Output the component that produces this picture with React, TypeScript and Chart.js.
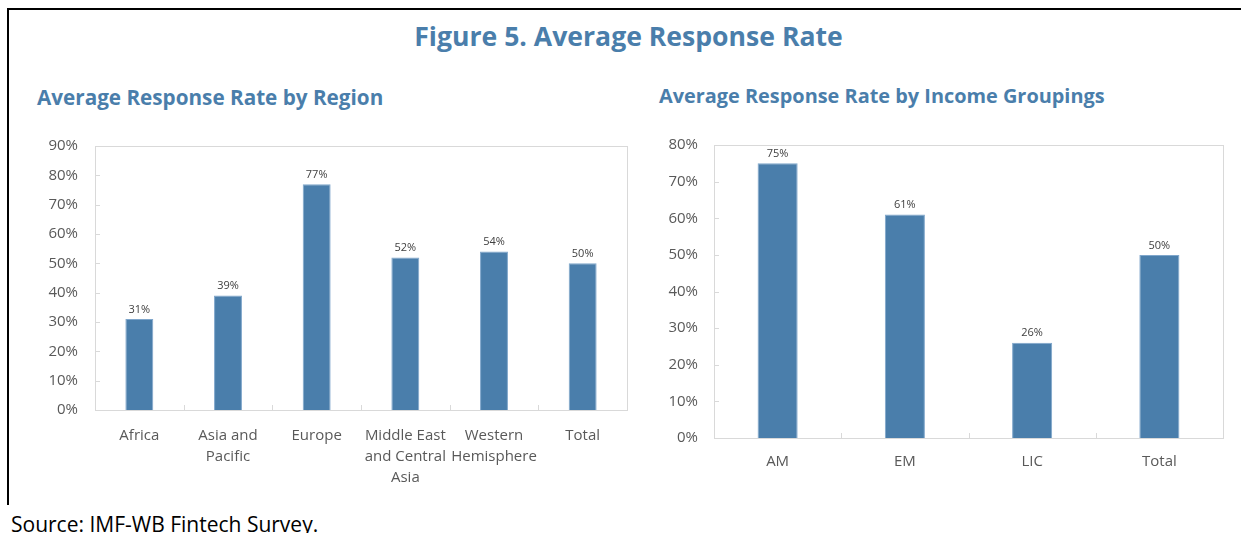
import React, { useEffect, useRef } from "react";
import { Chart, registerables } from "chart.js";

Chart.register(...registerables);

// ---- data ----
const regionCategories: (string | string[])[] = [
  "Africa",
  ["Asia and", "Pacific"],
  "Europe",
  ["Middle East", "and Central", "Asia"],
  ["Western", "Hemisphere"],
  "Total",
];
const regionValues = [31, 39, 77, 52, 54, 50];
const regionTicks = [0, 10, 20, 30, 40, 50, 60, 70, 80, 90];

const incomeCategories = ["AM", "EM", "LIC", "Total"];
const incomeValues = [75, 61, 26, 50];
const incomeTicks = [0, 10, 20, 30, 40, 50, 60, 70, 80];

const FONT = "'Open Sans', 'DejaVu Sans', sans-serif";
const BAR = "#4a7eab";
const AXIS = "#595959";
const FRAME = "#d9d9d9";

const framePlugin = {
  id: "frameTicks",
  afterDraw(chart: any) {
    const { ctx, chartArea } = chart;
    const { left, right, top, bottom } = chartArea;
    ctx.save();
    ctx.strokeStyle = FRAME;
    ctx.lineWidth = 1;
    ctx.strokeRect(Math.round(left) + 0.5, Math.round(top) + 0.5, Math.round(right - left), Math.round(bottom - top));
    const y = chart.scales.y;
    ctx.beginPath();
    y.ticks.forEach((t: any) => {
      const py = Math.round(y.getPixelForValue(t.value)) + 0.5;
      ctx.moveTo(left, py);
      ctx.lineTo(left + 5, py);
    });
    const x = chart.scales.x;
    const n = chart.data.labels.length;
    for (let i = 1; i < n; i++) {
      const px = Math.round((x.getPixelForValue(i - 1) + x.getPixelForValue(i)) / 2) + 0.5;
      ctx.moveTo(px, bottom);
      ctx.lineTo(px, bottom - 5);
    }
    ctx.stroke();
    ctx.restore();
  },
};

const labelPlugin = {
  id: "barValueLabels",
  afterDatasetsDraw(chart: any) {
    const { ctx } = chart;
    const meta = chart.getDatasetMeta(0);
    const vals = chart.data.datasets[0].data;
    ctx.save();
    ctx.fillStyle = "#404040";
    ctx.font = `11px ${FONT}`;
    ctx.textAlign = "center";
    ctx.textBaseline = "bottom";
    meta.data.forEach((bar: any, i: number) => {
      ctx.fillText(`${Math.round(vals[i])}%`, bar.x, bar.y - 4);
    });
    ctx.restore();
  },
};

type Props = {
  labels: (string | string[])[];
  values: number[];
  ticks: number[];
  width: number;
  height: number;
  padTop: number;
  padRight: number;
  yWidth: number;
  xHeight: number;
  xPad: number;
  yPad: number;
};

function BarChart(p: Props) {
  const ref = useRef<HTMLCanvasElement>(null);
  useEffect(() => {
    const chart = new Chart(ref.current!, {
      type: "bar",
      data: {
        labels: p.labels,
        datasets: [
          {
            data: p.values,
            backgroundColor: BAR,
            borderColor: "#7fa6cb",
            borderWidth: 1,
            categoryPercentage: 1,
            barPercentage: 0.315,
          },
        ],
      },
      options: {
        animation: false,
        responsive: false,
        maintainAspectRatio: false,
        layout: { padding: { top: p.padTop, right: p.padRight, left: 0, bottom: 0 } },
        plugins: { legend: { display: false }, tooltip: { enabled: false }, title: { display: false } },
        scales: {
          x: {
            grid: { display: false, drawTicks: false },
            border: { display: false },
            ticks: {
              color: AXIS,
              font: { family: FONT, size: 15, lineHeight: 1.4 },
              padding: p.xPad,
              maxRotation: 0,
              minRotation: 0,
              autoSkip: false,
            },
            afterFit: (s: any) => {
              s.height = p.xHeight;
            },
          },
          y: {
            min: 0,
            max: p.ticks[p.ticks.length - 1],
            grid: { display: false, drawTicks: false },
            border: { display: false },
            afterBuildTicks: (s: any) => {
              s.ticks = p.ticks.map((v) => ({ value: v }));
            },
            ticks: {
              color: AXIS,
              font: { family: FONT, size: 15 },
              padding: p.yPad,
              callback: (v: any) => `${v}%`,
            },
            afterFit: (s: any) => {
              s.width = p.yWidth;
            },
          },
        },
      },
      plugins: [framePlugin, labelPlugin],
    });
    return () => chart.destroy();
  }, []);
  return <canvas ref={ref} width={p.width} height={p.height} style={{ width: p.width, height: p.height, display: "block" }} />;
}

export default function App() {
  const titleColor = "#4a7eab";
  return (
    <div style={{ position: "absolute", left: 0, top: 0, width: 1241, height: 533, overflow: "hidden", background: "#fff", fontFamily: FONT }}>
      <div style={{ position: "absolute", left: 7, top: 8, width: 1300, height: 495, borderTop: "2px solid #000", borderLeft: "2px solid #000" }} />
      <div style={{ position: "absolute", left: 0, width: 1257, top: 18, height: 36, lineHeight: "36px", textAlign: "center", fontSize: 26.6, fontWeight: 700, color: titleColor, whiteSpace: "nowrap" }}>
        Figure 5. Average Response Rate
      </div>
      <div style={{ position: "absolute", left: 37, top: 83, height: 28, lineHeight: "28px", fontSize: 20.7, fontWeight: 700, color: titleColor, whiteSpace: "nowrap" }}>
        Average Response Rate by Region
      </div>
      <div style={{ position: "absolute", left: 659, top: 82, height: 28, lineHeight: "28px", fontSize: 19.9, fontWeight: 700, color: titleColor, whiteSpace: "nowrap" }}>
        Average Response Rate by Income Groupings
      </div>
      <div style={{ position: "absolute", left: 0, top: 120 }}>
        <BarChart labels={regionCategories} values={regionValues} ticks={regionTicks} width={640} height={380} padTop={25} padRight={13} yWidth={95} xHeight={90} xPad={15} yPad={17} />
      </div>
      <div style={{ position: "absolute", left: 640, top: 120 }}>
        <BarChart labels={incomeCategories} values={incomeValues} ticks={incomeTicks} width={601} height={380} padTop={22} padRight={18} yWidth={74} xHeight={62} xPad={13} yPad={16} />
      </div>
      <div style={{ position: "absolute", left: 11, top: 509, height: 30, lineHeight: "30px", fontSize: 21, color: "#000", whiteSpace: "nowrap" }}>
        Source: IMF-WB Fintech Survey.
      </div>
    </div>
  );
}
